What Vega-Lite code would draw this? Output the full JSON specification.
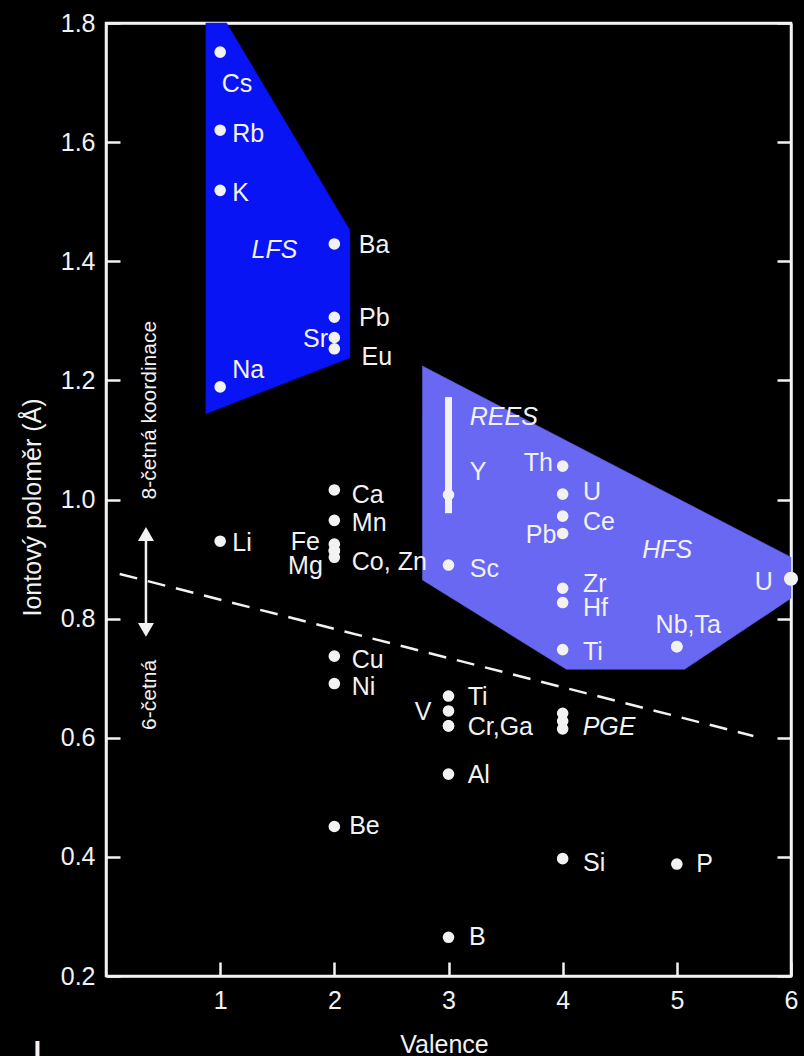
{
  "$schema": "https://vega.github.io/schema/vega-lite/v6.json",
  "width": 685,
  "height": 953,
  "autosize": {"type": "none"},
  "padding": {"left": 106, "top": 23, "right": 13, "bottom": 80},
  "background": "#000000",
  "config": {
    "view": {"stroke": "#f2f2f2", "strokeWidth": 2.5},
    "font": "Liberation Sans",
    "axis": {
      "grid": false,
      "domainColor": "#f2f2f2",
      "domainWidth": 2.5,
      "tickColor": "#f2f2f2",
      "tickWidth": 2.5,
      "tickSize": -14,
      "labelColor": "#f2f2f2",
      "labelFont": "Liberation Sans",
      "labelFontSize": 25,
      "titleColor": "#f2f2f2",
      "titleFont": "Liberation Sans",
      "titleFontSize": 25,
      "titleFontWeight": "normal",
      "labelFlush": false,
      "labelOverlap": false,
      "zindex": 1
    }
  },
  "datasets": {
    "lfs": [
      {"i": 0, "x": 0.875, "y": 1.8},
      {"i": 1, "x": 1.056, "y": 1.8},
      {"i": 2, "x": 2.136, "y": 1.452},
      {"i": 3, "x": 2.136, "y": 1.238},
      {"i": 4, "x": 0.875, "y": 1.144}
    ],
    "hfs": [
      {"i": 0, "x": 2.772, "y": 1.224},
      {"i": 1, "x": 6.0, "y": 0.903},
      {"i": 2, "x": 6.0, "y": 0.834},
      {"i": 3, "x": 5.068, "y": 0.715},
      {"i": 4, "x": 4.032, "y": 0.715},
      {"i": 5, "x": 2.772, "y": 0.865}
    ],
    "boundary": [
      {"x": 0.12, "y": 0.875},
      {"x": 5.67, "y": 0.603}
    ],
    "coordArrow": [
      {"x": 0.35, "y": 0.942, "y2": 0.781}
    ],
    "arrowHeads": [
      {"x": 0.35, "y": 0.942, "dir": "up"},
      {"x": 0.35, "y": 0.781, "dir": "down"}
    ],
    "reeRange": [
      {"valence": 3, "from": 1.172, "to": 0.977}
    ],
    "ions": [
      {"element": "Cs", "valence": 1, "radius": 1.751},
      {"element": "Rb", "valence": 1, "radius": 1.620},
      {"element": "K", "valence": 1, "radius": 1.519},
      {"element": "Na", "valence": 1, "radius": 1.189},
      {"element": "Li", "valence": 1, "radius": 0.930},
      {"element": "Ba", "valence": 2, "radius": 1.429},
      {"element": "Pb", "valence": 2, "radius": 1.306},
      {"element": "Sr", "valence": 2, "radius": 1.272},
      {"element": "Eu", "valence": 2, "radius": 1.253},
      {"element": "Ca", "valence": 2, "radius": 1.016},
      {"element": "Mn", "valence": 2, "radius": 0.965},
      {"element": "Fe", "valence": 2, "radius": 0.925},
      {"element": "Co", "valence": 2, "radius": 0.914},
      {"element": "Zn", "valence": 2, "radius": 0.914},
      {"element": "Mg", "valence": 2, "radius": 0.903},
      {"element": "Cu", "valence": 2, "radius": 0.737},
      {"element": "Ni", "valence": 2, "radius": 0.691},
      {"element": "Be", "valence": 2, "radius": 0.451},
      {"element": "Y", "valence": 3, "radius": 1.008},
      {"element": "Sc", "valence": 3, "radius": 0.890},
      {"element": "Ti", "valence": 3, "radius": 0.670},
      {"element": "V", "valence": 3, "radius": 0.645},
      {"element": "Cr", "valence": 3, "radius": 0.620},
      {"element": "Ga", "valence": 3, "radius": 0.620},
      {"element": "Al", "valence": 3, "radius": 0.539},
      {"element": "B", "valence": 3, "radius": 0.265},
      {"element": "Th", "valence": 4, "radius": 1.056},
      {"element": "U", "valence": 4, "radius": 1.009},
      {"element": "Ce", "valence": 4, "radius": 0.972},
      {"element": "Pb", "valence": 4, "radius": 0.943},
      {"element": "Zr", "valence": 4, "radius": 0.851},
      {"element": "Hf", "valence": 4, "radius": 0.827},
      {"element": "Ti", "valence": 4, "radius": 0.748},
      {"element": "PGE", "valence": 4, "radius": 0.641},
      {"element": "PGE", "valence": 4, "radius": 0.628},
      {"element": "PGE", "valence": 4, "radius": 0.615},
      {"element": "Si", "valence": 4, "radius": 0.397},
      {"element": "Nb", "valence": 5, "radius": 0.753},
      {"element": "Ta", "valence": 5, "radius": 0.753},
      {"element": "P", "valence": 5, "radius": 0.388},
      {"element": "U", "valence": 6, "radius": 0.867}
    ],
    "labelsRight": [
      {"text": "Cs", "x": 1.013, "y": 1.698},
      {"text": "Rb", "x": 1.106, "y": 1.613},
      {"text": "K", "x": 1.106, "y": 1.515},
      {"text": "Na", "x": 1.106, "y": 1.217},
      {"text": "Li", "x": 1.106, "y": 0.927},
      {"text": "Ba", "x": 2.214, "y": 1.427},
      {"text": "Pb", "x": 2.217, "y": 1.304},
      {"text": "Eu", "x": 2.238, "y": 1.239},
      {"text": "Ca", "x": 2.153, "y": 1.007},
      {"text": "Mn", "x": 2.153, "y": 0.960},
      {"text": "Co, Zn", "x": 2.153, "y": 0.895},
      {"text": "Cu", "x": 2.153, "y": 0.730},
      {"text": "Ni", "x": 2.153, "y": 0.686},
      {"text": "Be", "x": 2.13, "y": 0.451},
      {"text": "Y", "x": 3.186, "y": 1.046},
      {"text": "Sc", "x": 3.186, "y": 0.884},
      {"text": "Ti", "x": 3.168, "y": 0.668},
      {"text": "Cr,Ga", "x": 3.168, "y": 0.618},
      {"text": "Al", "x": 3.168, "y": 0.537},
      {"text": "B", "x": 3.18, "y": 0.265},
      {"text": "U", "x": 4.178, "y": 1.013},
      {"text": "Ce", "x": 4.178, "y": 0.963},
      {"text": "Zr", "x": 4.178, "y": 0.858},
      {"text": "Hf", "x": 4.178, "y": 0.818},
      {"text": "Ti", "x": 4.178, "y": 0.744},
      {"text": "Si", "x": 4.178, "y": 0.389},
      {"text": "Nb,Ta", "x": 4.814, "y": 0.789},
      {"text": "P", "x": 5.17, "y": 0.388}
    ],
    "labelsLeft": [
      {"text": "Sr", "x": 1.945, "y": 1.270},
      {"text": "Fe", "x": 1.873, "y": 0.929},
      {"text": "Mg", "x": 1.899, "y": 0.889},
      {"text": "V", "x": 2.851, "y": 0.644},
      {"text": "Th", "x": 3.915, "y": 1.061},
      {"text": "Pb", "x": 3.945, "y": 0.940},
      {"text": "U", "x": 5.841, "y": 0.862}
    ],
    "groups": [
      {"text": "LFS", "x": 1.275, "y": 1.419},
      {"text": "REES", "x": 3.186, "y": 1.139},
      {"text": "HFS", "x": 4.697, "y": 0.916},
      {"text": "PGE", "x": 4.175, "y": 0.618}
    ],
    "coordNotes": [
      {"text": "8-četná koordinace", "x": 0.438, "y": 1.150},
      {"text": "6-četná", "x": 0.438, "y": 0.672}
    ],
    "fragment": [
      {"text": "l", "x": -0.6, "y": 0.057}
    ]
  },
  "layer": [
    {
      "data": {"name": "lfs"},
      "mark": {"type": "line", "interpolate": "linear-closed", "fill": "#0814f4", "stroke": "#0814f4", "strokeWidth": 0.5},
      "encoding": {
        "x": {
          "field": "x", "type": "quantitative",
          "scale": {"domain": [0, 6], "nice": false, "zero": false},
          "axis": {
            "orient": "bottom", "values": [1, 2, 3, 4, 5, 6], "format": "d",
            "domain": true, "labelPadding": 26,
            "title": "Valence", "titleX": 338, "titleY": 76,
            "titleAlign": "center", "titleBaseline": "alphabetic"
          }
        },
        "y": {
          "field": "y", "type": "quantitative",
          "scale": {"domain": [0.2, 1.8], "nice": false, "zero": false},
          "axis": {
            "orient": "left", "values": [0.2, 0.4, 0.6, 0.8, 1.0, 1.2, 1.4, 1.6, 1.8], "format": ".1f",
            "domain": true, "labelPadding": 25,
            "title": "Iontový poloměr (Å)", "titleAngle": 270, "titleX": -66, "titleY": 484,
            "titleAlign": "center", "titleBaseline": "alphabetic"
          }
        },
        "order": {"field": "i"}
      }
    },
    {
      "data": {"name": "hfs"},
      "mark": {"type": "line", "interpolate": "linear-closed", "fill": "#6868f2", "stroke": "#6868f2", "strokeWidth": 0.5},
      "encoding": {
        "x": {
          "field": "x", "type": "quantitative",
          "scale": {"domain": [0, 6], "nice": false, "zero": false},
          "axis": {"orient": "top", "labels": false, "ticks": false, "domain": true, "title": null}
        },
        "y": {
          "field": "y", "type": "quantitative",
          "scale": {"domain": [0.2, 1.8], "nice": false, "zero": false},
          "axis": {"orient": "right", "labels": false, "domain": true, "values": [0.2, 0.4, 0.6, 0.8, 1.0, 1.2, 1.4, 1.6, 1.8], "title": null}
        },
        "order": {"field": "i"}
      }
    },
    {
      "data": {"name": "boundary"},
      "mark": {"type": "line", "color": "#f2f2f2", "strokeWidth": 2.5, "strokeDash": [18, 11]},
      "encoding": {
        "x": {"field": "x", "type": "quantitative", "scale": {"domain": [0, 6], "nice": false, "zero": false}, "axis": null},
        "y": {"field": "y", "type": "quantitative", "scale": {"domain": [0.2, 1.8], "nice": false, "zero": false}, "axis": null}
      }
    },
    {
      "data": {"name": "coordArrow"},
      "mark": {"type": "rule", "color": "#f2f2f2", "strokeWidth": 2.5},
      "encoding": {
        "x": {"field": "x", "type": "quantitative", "scale": {"domain": [0, 6], "nice": false, "zero": false}, "axis": null},
        "y": {"field": "y", "type": "quantitative", "scale": {"domain": [0.2, 1.8], "nice": false, "zero": false}, "axis": null},
        "y2": {"field": "y2"}
      }
    },
    {
      "data": {"name": "arrowHeads"},
      "mark": {"type": "point", "filled": true, "color": "#f2f2f2", "opacity": 1, "size": 256},
      "encoding": {
        "x": {"field": "x", "type": "quantitative", "scale": {"domain": [0, 6], "nice": false, "zero": false}, "axis": null},
        "y": {"field": "y", "type": "quantitative", "scale": {"domain": [0.2, 1.8], "nice": false, "zero": false}, "axis": null},
        "shape": {"field": "dir", "type": "nominal", "scale": {"domain": ["up", "down"], "range": ["triangle-up", "triangle-down"]}, "legend": null}
      }
    },
    {
      "data": {"name": "reeRange"},
      "mark": {"type": "rule", "color": "#f2f2f2", "strokeWidth": 7},
      "encoding": {
        "x": {"field": "valence", "type": "quantitative", "scale": {"domain": [0, 6], "nice": false, "zero": false}, "axis": null},
        "y": {"field": "from", "type": "quantitative", "scale": {"domain": [0.2, 1.8], "nice": false, "zero": false}, "axis": null},
        "y2": {"field": "to"}
      }
    },
    {
      "data": {"name": "ions"},
      "transform": [{"filter": "datum.valence < 6"}],
      "mark": {"type": "circle", "color": "#f2f2f2", "opacity": 1, "size": 135},
      "encoding": {
        "x": {"field": "valence", "type": "quantitative", "scale": {"domain": [0, 6], "nice": false, "zero": false}, "axis": null},
        "y": {"field": "radius", "type": "quantitative", "scale": {"domain": [0.2, 1.8], "nice": false, "zero": false}, "axis": null}
      }
    },
    {
      "data": {"name": "ions"},
      "transform": [{"filter": "datum.valence == 6"}],
      "mark": {"type": "circle", "color": "#f2f2f2", "opacity": 1, "size": 200},
      "encoding": {
        "x": {"field": "valence", "type": "quantitative", "scale": {"domain": [0, 6], "nice": false, "zero": false}, "axis": null},
        "y": {"field": "radius", "type": "quantitative", "scale": {"domain": [0.2, 1.8], "nice": false, "zero": false}, "axis": null}
      }
    },
    {
      "data": {"name": "labelsRight"},
      "mark": {"type": "text", "align": "left", "baseline": "middle", "fontSize": 25, "font": "Liberation Sans", "fill": "#f2f2f2"},
      "encoding": {
        "x": {"field": "x", "type": "quantitative", "scale": {"domain": [0, 6], "nice": false, "zero": false}, "axis": null},
        "y": {"field": "y", "type": "quantitative", "scale": {"domain": [0.2, 1.8], "nice": false, "zero": false}, "axis": null},
        "text": {"field": "text"}
      }
    },
    {
      "data": {"name": "labelsLeft"},
      "mark": {"type": "text", "align": "right", "baseline": "middle", "fontSize": 25, "font": "Liberation Sans", "fill": "#f2f2f2"},
      "encoding": {
        "x": {"field": "x", "type": "quantitative", "scale": {"domain": [0, 6], "nice": false, "zero": false}, "axis": null},
        "y": {"field": "y", "type": "quantitative", "scale": {"domain": [0.2, 1.8], "nice": false, "zero": false}, "axis": null},
        "text": {"field": "text"}
      }
    },
    {
      "data": {"name": "groups"},
      "mark": {"type": "text", "align": "left", "baseline": "middle", "fontSize": 25, "fontStyle": "italic", "font": "Liberation Sans", "fill": "#f2f2f2"},
      "encoding": {
        "x": {"field": "x", "type": "quantitative", "scale": {"domain": [0, 6], "nice": false, "zero": false}, "axis": null},
        "y": {"field": "y", "type": "quantitative", "scale": {"domain": [0.2, 1.8], "nice": false, "zero": false}, "axis": null},
        "text": {"field": "text"}
      }
    },
    {
      "data": {"name": "coordNotes"},
      "mark": {"type": "text", "align": "center", "baseline": "alphabetic", "angle": 270, "fontSize": 21, "font": "Liberation Sans Narrow, Liberation Sans", "fill": "#f2f2f2"},
      "encoding": {
        "x": {"field": "x", "type": "quantitative", "scale": {"domain": [0, 6], "nice": false, "zero": false}, "axis": null},
        "y": {"field": "y", "type": "quantitative", "scale": {"domain": [0.2, 1.8], "nice": false, "zero": false}, "axis": null},
        "text": {"field": "text"}
      }
    },
    {
      "data": {"name": "fragment"},
      "mark": {"type": "text", "align": "center", "baseline": "alphabetic", "fontSize": 28, "fontWeight": "bold", "font": "Liberation Sans", "fill": "#f2f2f2"},
      "encoding": {
        "x": {"field": "x", "type": "quantitative", "scale": {"domain": [0, 6], "nice": false, "zero": false}, "axis": null},
        "y": {"field": "y", "type": "quantitative", "scale": {"domain": [0.2, 1.8], "nice": false, "zero": false}, "axis": null},
        "text": {"field": "text"}
      }
    }
  ],
  "resolve": {"axis": {"x": "independent", "y": "independent"}}
}
